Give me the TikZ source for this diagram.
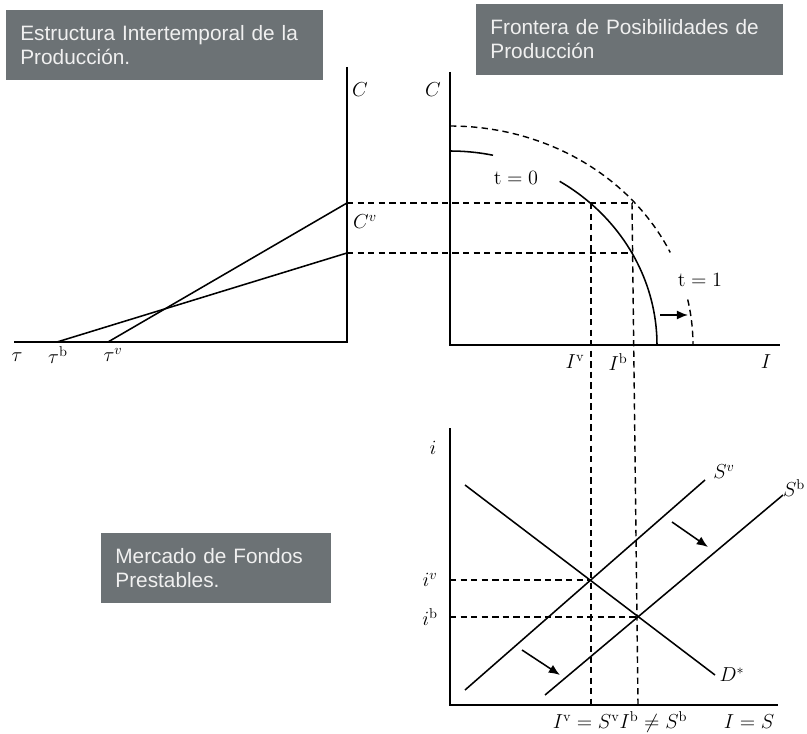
\documentclass[tikz,border=0pt]{standalone}
\usepackage{fontspec}
\setsansfont{Liberation Sans}
\usepackage{xcolor}
\usetikzlibrary{arrows.meta, positioning}
\definecolor{boxgray}{RGB}{108,114,117}

\begin{document}
\begin{tikzpicture}[
  x=0.025cm, y=-0.025cm,
  every node/.style={font=\fontsize{14.5}{16}\selectfont},
  titlebox/.style={rectangle, fill=boxgray, text=white!94!black, inner xsep=0.36cm,
                   inner ysep=0pt, minimum height=1.75cm, align=left,
                   font=\sffamily\fontsize{14.8}{17}\selectfont},
  axis/.style={line width=1.8pt},
  curve/.style={line width=1.1pt},
  guide/.style={line width=1pt, dash pattern=on 4.5pt off 3pt},
  shiftarrow/.style={line width=1.1pt, -{Latex[length=8pt,width=6.5pt]}},
]
  \useasboundingbox (0,0) rectangle (807,734);

  \node[titlebox, text width=7.205cm] (estructura) at (164.5,45)
    {Estructura Intertemporal de la\\Producción.};
  \node[titlebox, text width=6.955cm] (frontera) at (629.5,39.5)
    {Frontera de Posibilidades de\\Producción};
  \node[titlebox, text width=5.03cm] (mercado) at (216,568)
    {Mercado de Fondos\\Prestables.};

  % key points
  \coordinate (taub) at (57,342);
  \coordinate (tauv) at (108,342);
  \coordinate (Cv) at (347,203);
  \coordinate (Cb) at (347,253);
  \coordinate (Pv) at (591,203);
  \coordinate (Pb) at (632,203);
  \coordinate (Qb) at (632,253);
  \coordinate (Ev) at (591,580);
  \coordinate (Eb) at (638,617);
  \coordinate (iv) at (450,580);
  \coordinate (ib) at (450,617);
  \coordinate (Iv) at (591,705);
  \coordinate (Ib) at (638,705);

  % estructura intertemporal
  \draw[axis] (347,67) -- (347,342) -- (14,342);
  \draw[curve] (tauv) -- (Cv);
  \draw[curve] (taub) -- (Cb);
  \node (lC1) at (360,90) {$C$};
  \node (lCv) at (365,222) {$C^{v}$};
  \node (ltau) at (17,357) {$\tau$};
  \node (ltaub) at (58,355) {$\tau^{\mathrm{b}}$};
  \node (ltauv) at (113,355) {$\tau^{v}$};

  % frontera de posibilidades
  \draw[axis] (450,72) -- (450,345) -- (780,345);
  \draw[curve, domain=90:78, samples=10] plot ({450+207*cos(\x)}, {345-194*sin(\x)});
  \draw[curve, domain=58:0, samples=40] plot ({450+207*cos(\x)}, {345-193*sin(\x)});
  \draw[guide, domain=90:25, samples=50] plot ({450+243*cos(\x)}, {345-219*sin(\x)});
  \draw[guide, domain=12:0, samples=10] plot ({450+243*cos(\x)}, {345-219*sin(\x)});
  \draw[shiftarrow] (660,315) -- (688,315);
  \node (lC2) at (433,90) {$C$};
  \node (lt0) at (516,178) {$\mathrm{t}=0$};
  \node (lt1) at (700,280) {$\mathrm{t}=1$};
  \node (lIv) at (575,362) {$I^{\mathrm{v}}$};
  \node (lIb) at (618,362) {$I^{\mathrm{b}}$};
  \node (lI) at (766,362) {$I$};

  \draw[guide] (Cv) -- (Pb);
  \draw[guide] (Cb) -- (Qb);
  \draw[guide] (Pv) -- (Iv);
  \draw[guide] (Pb) -- (Ib);

  % mercado de fondos prestables
  \draw[axis] (450,428) -- (450,705) -- (778,705);
  \draw[curve] (465,485) -- (715,675);
  \draw[curve] (465,690) -- (705,480);
  \draw[curve] (545,695) -- (783,495);
  \draw[guide] (iv) -- (Ev);
  \draw[guide] (ib) -- (Eb);
  \draw[shiftarrow] (672,522) -- (708,547);
  \draw[shiftarrow] (522,650) -- (560,675);
  \node (li) at (433,448) {$i$};
  \node (liv) at (430,580) {$i^{v}$};
  \node (lib) at (430,617) {$i^{\mathrm{b}}$};
  \node (lSv) at (724,472) {$S^{v}$};
  \node (lSb) at (794,488) {$S^{\mathrm{b}}$};
  \node (lD) at (732,675) {$D^{*}$};
  \node (leq) at (620,722) {$I^{\mathrm{v}}=S^{\mathrm{v}}I^{\mathrm{b}}\neq S^{\mathrm{b}}$};
  \node (lIS) at (749,722) {$I=S$};
\end{tikzpicture}
\end{document}
